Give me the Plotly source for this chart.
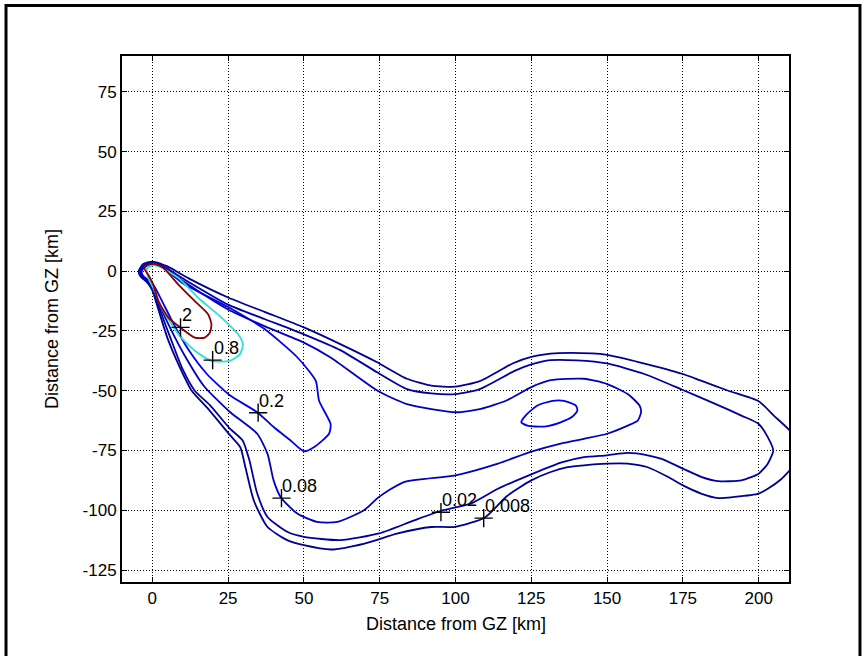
import plotly.graph_objects as go

# ---- contour data (km) ----
x_2 = [-2.6, -1.5, 0.9, 3.6, 8.6, 14, 18.4, 19.5, 19, 17.3, 14, 9.6, 5.3, 2, 0.3, -1.2, -2.6]
y_2 = [1.2, 2.6, 3.0, 1.4, -5.6, -12.5, -18, -22.2, -25.7, -27.8, -27.8, -23.9, -19.4, -12.5, -5.6, -1.8, 1.2]

x_08 = [-1.8, 0, 2.2, 8.6, 15.1, 22.8, 28.3, 29.9, 28.9, 25.5, 19.5, 14, 8.6, 3.1, 0.3, -1.3, -1.8]
y_08 = [1.0, 2.4, 2.0, -2.8, -11.1, -19.4, -26.4, -30.6, -34.7, -37.5, -37.5, -33.3, -26.4, -15.3, -6.9, -2.8, 1.0]

x_02 = [-3.5, -2, 0, 3, 10, 25, 36.8, 47.8, 53.9, 55, 58.8, 58.3, 53.3, 50, 45.6, 40.1, 34.6,
        25.7, 18, 12, 7, 3, 0.5, -1, -3, -3.5]
y_02 = [0, 2.3, 3, 2, -5, -15, -24, -36, -45.8, -54.2, -63.9, -68, -73.6, -75.3, -70.8, -65.3, -59,
        -52, -43, -33, -22, -12, -6, -4, -2, 0]

x_02_island = [121.7, 123.1, 127, 132, 135.8, 139.7, 140.2, 138.6, 134.7, 129.2, 123.7, 121.7]
y_02_island = [-63.2, -60.4, -56.2, -54.2, -54.2, -56.2, -58.3, -60.8, -63.2, -65, -64.6, -63.2]

x_008a = [-3.8, -2.3, 0, 3, 10, 25, 37, 50, 58.8, 74.3, 84, 100, 108.4, 117, 125, 131.4, 142.4,
          150, 156.8, 160.7, 161.2, 160.1, 156.8, 150, 142.4, 135, 125, 114, 100, 83, 74.8, 69.8,
          61, 54.4, 47.8, 42.3, 40, 38, 34.6, 25.7, 17, 11, 6, 2, 0.5, -1, -3.3, -3.8]
y_008a = [0, 2.5, 3.3, 2.3, -4, -16, -23, -29.9, -36.1, -50, -55.6, -59, -57.6, -54, -48.5, -45.6, -45,
          -47.2, -51.4, -56.2, -59, -62.5, -64.6, -68, -70.1, -72, -75.5, -80.5, -85.4, -88.2, -94.4, -100,
          -104.9, -104.9, -101.4, -94.4, -87.5, -76.4, -68, -59, -48, -36, -24, -13, -7, -4.5, -2, 0]

x_002 = [-4, -2.5, 0, 3, 10, 25, 37, 50, 62, 74.3, 84, 92, 100, 108, 119.5, 125, 131.4, 140, 150,
         162.3, 175, 186.6, 194.3, 200, 203, 204.8, 203, 200, 194.3, 186.6, 181, 175, 168, 163.4,
         156.8, 150, 142.4, 135, 125, 114, 105, 95, 86.4, 74.8, 62, 50, 44.5, 38, 34.6, 32, 29.8,
         25.7, 19, 14, 10, 6, 2.5, 0.5, -1, -3.5, -4]
y_002 = [0, 2.7, 3.5, 2.5, -3, -14, -20, -26.4, -33, -42.4, -49.3, -51.1, -51.4, -49.3, -41.7, -39,
         -37.2, -37.3, -38.6, -43, -49.7, -56, -60.4, -63.9, -69.4, -75, -80.5, -84.7, -87.5, -87.8,
         -86, -82.6, -78.5, -77, -76, -77, -77.8, -80, -85, -91, -97.2, -100.3, -104.2, -109.7, -112.5,
         -111.1, -109, -102.8, -93, -79, -70.8, -66, -56, -50, -41, -28, -16, -8, -5, -2, 0]

x_0008 = [-4.5, -3, 0, 3, 5, 12, 25, 37, 50, 62, 74, 84, 92, 100, 108, 119, 125, 134, 145, 150,
          161, 175, 181, 190, 200, 205, 210.3, 213, 214, 212, 210.3, 207.6, 203, 200, 192, 186.6,
          181, 175, 170, 163.4, 156.8, 150, 142.4, 137, 131.4, 125, 117, 109.7, 100, 92, 81, 70,
          59, 50, 44.5, 38, 33.5, 30.7, 29, 25.7, 18, 13, 9, 5, 2, 0, -1.5, -4, -4.5]
y_0008 = [0, 3, 4, 3, 2, -3, -11, -17, -23.5, -30.5, -38, -45, -47.9, -48.3, -46, -38.5, -35.8,
          -34.3, -34.4, -35, -38.2, -43, -45.8, -50, -54.4, -60.4, -66.7, -72, -77, -81, -83.3, -86.8,
          -91, -93, -94.4, -94.9, -93, -89.6, -86, -82, -80.5, -80.5, -81.2, -82, -84, -87.5, -94,
          -103, -106.9, -107, -109.7, -113.9, -116.4, -114.6, -112.5, -107, -96, -82, -73.6, -68.7,
          -57, -50, -40, -28, -16, -8, -5, -2, 0]

# contour label positions and texts
label_x = [9.3, 19.9, 34.9, 42.6, 95.2, 109.3]
label_y = [-23.5, -37.2, -59.2, -94.9, -100.8, -103.3]
label_text = ["2", "0.8", "0.2", "0.08", "0.02", "0.008"]

x_ticks = [0, 25, 50, 75, 100, 125, 150, 175, 200]
y_ticks = [75, 50, 25, 0, -25, -50, -75, -100, -125]
x_range = [-10, 210]
y_range = [-130, 90]

FONT = "Liberation Sans, Arial, Helvetica, sans-serif"
LW = 1.8

fig = go.Figure()

curves = [
    (x_0008, y_0008, "#000090"),
    (x_002, y_002, "#0000A0"),
    (x_008a, y_008a, "#0000BE"),
    (x_02, y_02, "#0000EE"),
    (x_02_island, y_02_island, "#0000EE"),
    (x_08, y_08, "#30E0D0"),
    (x_2, y_2, "#8B0000"),
]
for cx, cy, col in curves:
    fig.add_trace(go.Scatter(x=cx, y=cy, mode="lines",
                             line=dict(color=col, width=LW, shape="spline", smoothing=0.6),
                             hoverinfo="skip", showlegend=False))

fig.add_trace(go.Scatter(x=label_x, y=label_y, mode="markers",
                         marker=dict(symbol="cross-thin", size=13,
                                     line=dict(color="black", width=1.4)),
                         showlegend=False, hoverinfo="skip"))

for lx, ly, lt in zip(label_x, label_y, label_text):
    fig.add_annotation(x=lx, y=ly, text=lt, showarrow=False,
                       xanchor="left", yanchor="bottom", xshift=-1, yshift=0,
                       font=dict(family=FONT, size=18, color="black"))

axis_common = dict(
    showgrid=True, gridcolor="black", griddash="1px,2px", gridwidth=1,
    zeroline=False, showline=True, linecolor="black", linewidth=2,
    mirror="allticks", ticks="inside", ticklen=5, tickwidth=1, tickcolor="black",
    tickfont=dict(family=FONT, size=17, color="black"),
)

fig.update_xaxes(range=x_range, tickvals=x_ticks, ticktext=[str(v) for v in x_ticks],
                 **axis_common)
fig.update_yaxes(range=y_range, tickvals=y_ticks, ticktext=[str(v) for v in y_ticks],
                 **axis_common)

# plot box at x 122..789, y 56..582 of the 865x656 window
PLOT_L, PLOT_R, PLOT_T, PLOT_B = 122, 76, 56, 74
PW = 865 - PLOT_L - PLOT_R
PH = 656 - PLOT_T - PLOT_B

def px_x(px):
    return (px - PLOT_L) / PW

def px_y(py):
    return (656 - PLOT_B - py) / PH

fig.add_annotation(xref="paper", yref="paper", x=0.5, y=px_y(624),
                   text="Distance from GZ [km]", showarrow=False,
                   xanchor="center", yanchor="middle",
                   font=dict(family=FONT, size=18, color="black"))
fig.add_annotation(xref="paper", yref="paper", x=px_x(52), y=0.5,
                   text="Distance from GZ [km]", showarrow=False, textangle=-90,
                   xanchor="center", yanchor="middle",
                   font=dict(family=FONT, size=18, color="black"))

# outer figure frame (left, top, right)
fl, fr, ft, fb = px_x(6), px_x(860), px_y(5.5), px_y(670)
fig.add_shape(type="path", xref="paper", yref="paper",
              path=f"M {fl:.4f},{fb:.4f} L {fl:.4f},{ft:.4f} L {fr:.4f},{ft:.4f} L {fr:.4f},{fb:.4f}",
              line=dict(color="black", width=3))

fig.update_layout(
    width=865, height=656,
    margin=dict(l=PLOT_L, r=PLOT_R, t=PLOT_T, b=PLOT_B),
    paper_bgcolor="white", plot_bgcolor="white",
    font=dict(family=FONT, size=18, color="black"),
)

fig.write_html("out.html",
               config={"displayModeBar": False, "staticPlot": True},
               post_script="document.body.style.margin='0px';"
                           "document.body.style.overflow='hidden';")
